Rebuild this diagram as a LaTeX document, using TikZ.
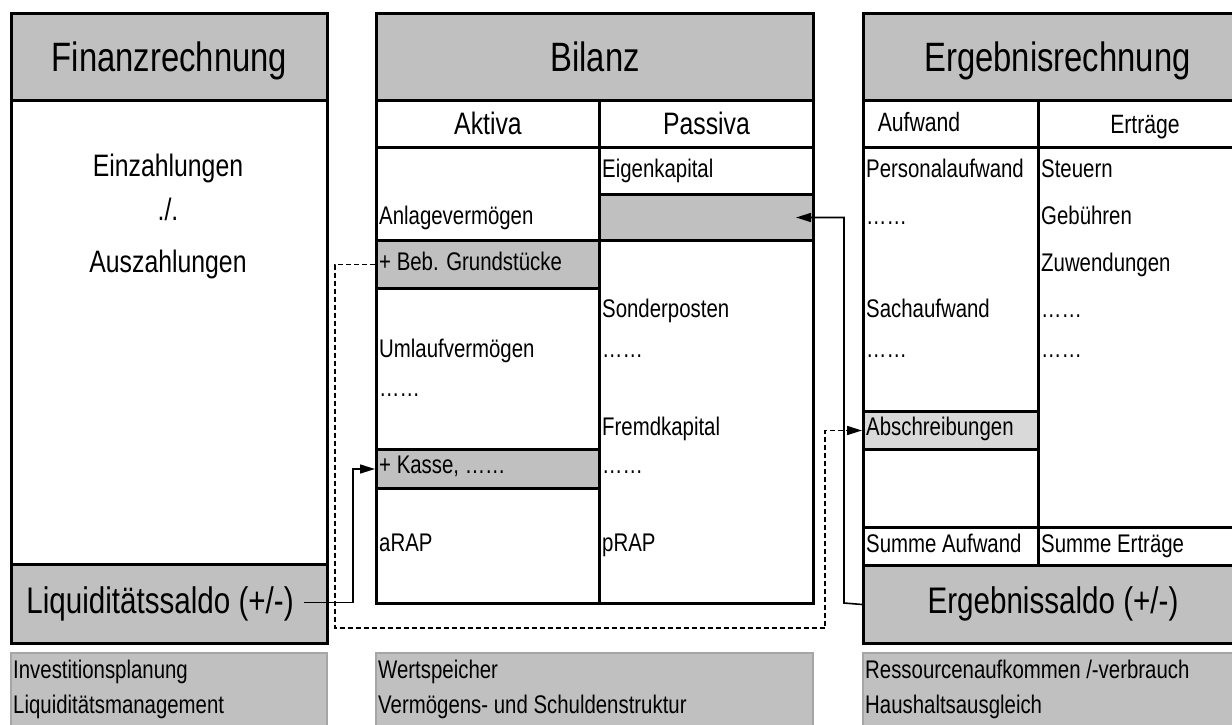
\documentclass[tikz,border=0pt]{standalone}
\usepackage{fontspec}
\setmainfont{Liberation Sans}[FakeStretch=0.8]
\usetikzlibrary{arrows.meta, positioning}
\definecolor{boxGray}{RGB}{192, 192, 192}
\definecolor{lightGray}{RGB}{217, 217, 217}
\definecolor{frameGray}{RGB}{166, 166, 166}

\begin{document}
\begin{tikzpicture}[
  x=1pt, y=-1pt,
  cell/.style={
    rectangle, draw=black, line width=3pt, fill=white,
    anchor=north west, inner sep=0pt
  },
  greycell/.style={cell, fill=boxGray},
  title/.style={font=\fontsize{41}{48}\selectfont, text height=28pt, text depth=0pt},
  colhead/.style={font=\fontsize{31}{36}\selectfont, text height=21pt, text depth=0pt},
  subhead/.style={font=\fontsize{26.5}{31}\selectfont, text height=18pt, text depth=0pt},
  saldo/.style={font=\fontsize{37}{42}\selectfont, text height=21pt, text depth=0pt,
    inner xsep=10pt, inner ysep=0pt},
  flow/.style={anchor=base, inner sep=0pt, font=\fontsize{31}{36}\selectfont},
  item/.style={anchor=base west, inner sep=0pt, font=\fontsize{25.5}{30}\selectfont},
  note/.style={
    rectangle, draw=frameGray, line width=1.5pt, fill=boxGray,
    anchor=north west, inner sep=0pt
  },
  link/.style={line width=1.6pt, -{Triangle[length=15pt, width=9pt]}}
]
\useasboundingbox (0,0) rectangle (1232,725);
\clip (0,0) rectangle (1232,725);
\fill[white] (0,0) rectangle (1232,725);

% Finanzrechnung
\node[cell, minimum width=316pt, minimum height=630pt] (finbody) at (10,12) {};
\node[greycell, minimum width=316pt, minimum height=87pt, title] (finhead) at (10,12) {Finanzrechnung};
\node[greycell, minimum width=316pt, minimum height=79pt] (finsaldo) at (10,563) {};
\node[saldo] (liqtext) at (160,602.5) {Liquiditätssaldo (+/-)};
\node[flow] (einz) at (168,176) {Einzahlungen};
\node[flow] (minus) at (168,220) {./.};
\node[flow] (ausz) at (168,272) {Auszahlungen};

% Bilanz
\node[cell, minimum width=437pt, minimum height=590pt] (bilbody) at (375,12) {};
\node[greycell, minimum width=437pt, minimum height=87pt, title] (bilhead) at (375,12) {Bilanz};
\node[cell, minimum width=223pt, minimum height=47pt, colhead] (aktiva) at (375,99) {Aktiva};
\node[cell, minimum width=214pt, minimum height=47pt, colhead] (passiva) at (598,99) {Passiva};
\node[cell, minimum width=223pt, minimum height=93pt] (anlage) at (375,146) {};
\node[greycell, minimum width=223pt, minimum height=48pt] (beb) at (375,239) {};
\node[cell, minimum width=223pt, minimum height=161pt] (umlauf) at (375,287) {};
\node[greycell, minimum width=223pt, minimum height=39pt] (kasse) at (375,448) {};
\node[cell, minimum width=223pt, minimum height=115pt] (arap) at (375,487) {};
\node[cell, minimum width=214pt, minimum height=47pt] (eigen) at (598,146) {};
\node[greycell, minimum width=214pt, minimum height=46pt] (passivgrey) at (598,193) {};
\node[cell, minimum width=214pt, minimum height=363pt] (fremd) at (598,239) {};

\node[item] at (379,224) {Anlagevermögen};
\node[item] at (379,270) {+ Beb. Grundstücke};
\node[item] at (379,357) {Umlaufvermögen};
\node[item] at (379,396) {……};
\node[item] at (379,473) {+ Kasse, ……};
\node[item] at (379,551) {aRAP};
\node[item] at (602,177) {Eigenkapital};
\node[item] at (602,317) {Sonderposten};
\node[item] at (602,357) {……};
\node[item] at (602,435) {Fremdkapital};
\node[item] at (602,473) {……};
\node[item] at (602,551) {pRAP};

% Ergebnisrechnung
\node[cell, minimum width=388pt, minimum height=630pt] (ergbody) at (862,12) {};
\node[greycell, minimum width=388pt, minimum height=87pt, title] (erghead) at (862,12) {Ergebnisrechnung};
\node[cell, minimum width=175pt, minimum height=47pt] (aufwand) at (862,99) {};
\node[subhead] at (919,122.5) {Aufwand};
\node[cell, minimum width=213pt, minimum height=47pt, subhead] (ertraege) at (1037,99) {Erträge};
\node[cell, minimum width=175pt, minimum height=380pt] (aufcol) at (862,146) {};
\node[cell, minimum width=213pt, minimum height=380pt] (ertcol) at (1037,146) {};
\node[cell, fill=lightGray, minimum width=175pt, minimum height=38pt] (abschr) at (862,410) {};
\node[cell, minimum width=175pt, minimum height=38pt] (sumauf) at (862,526) {};
\node[cell, minimum width=213pt, minimum height=38pt] (sumert) at (1037,526) {};
\node[greycell, minimum width=388pt, minimum height=78pt] (ergsaldo) at (862,564) {};
\node[saldo] (ergtext) at (1053,602.5) {Ergebnissaldo (+/-)};

\node[item] at (866,177) {Personalaufwand};
\node[item] at (866,224) {……};
\node[item] at (866,317) {Sachaufwand};
\node[item] at (866,357) {……};
\node[item] at (866,435) {Abschreibungen};
\node[item] at (866,552) {Summe Aufwand};
\node[item] at (1041,177) {Steuern};
\node[item] at (1041,224) {Gebühren};
\node[item] at (1041,271) {Zuwendungen};
\node[item] at (1041,317) {……};
\node[item] at (1041,357) {……};
\node[item] at (1041,552) {Summe Erträge};

% notes below
\node[note, minimum width=316pt, minimum height=90pt] (finnote) at (10,652) {};
\node[note, minimum width=437pt, minimum height=90pt] (bilnote) at (375,652) {};
\node[note, minimum width=388pt, minimum height=90pt] (ergnote) at (862,652) {};
\node[item] at (13,678) {Investitionsplanung};
\node[item] at (13,713) {Liquiditätsmanagement};
\node[item] at (378,678) {Wertspeicher};
\node[item] at (378,713) {Vermögens- und Schuldenstruktur};
\node[item] at (865,678) {Ressourcenaufkommen /-verbrauch};
\node[item] at (865,713) {Haushaltsausgleich};

% connectors
\coordinate (liqbend) at (353,602.5);
\coordinate (ergbend) at (844,603);
\coordinate (dashleft) at (335,628);
\coordinate (dashright) at (825,628);
\draw[link] (liqtext.east) -- (liqbend) |- (kasse.west);
\draw[link] (ergsaldo.west) -- (ergbend) |- ([xshift=-19pt]passivgrey.east);
\draw[link, dash pattern=on 5pt off 3pt] (beb.west) -| (dashleft) -- (dashright) |- (abschr.west);

\end{tikzpicture}
\end{document}
